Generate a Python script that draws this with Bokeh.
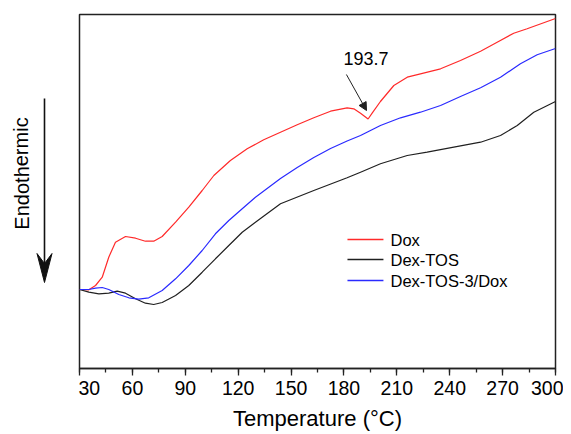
from bokeh.plotting import figure
from bokeh.layouts import row
from bokeh.models import (Range1d, SingleIntervalTicker, Label, Arrow, NormalHead)
from bokeh.core.properties import value
from bokeh.embed import file_html
from bokeh.resources import INLINE

# ---- data (heat flow in arbitrary units) ----
t_dox = [30, 35.3, 39.1, 42.9, 46.6, 50.4, 56.1, 61.8, 67.4, 72.1, 76.9, 84.5, 92.0, 99.6,
         106.2, 115.6, 125.1, 134.5, 144.0, 153.5, 162.9, 172.4, 181.8, 185.6, 189.4, 193.7,
         196.0, 200.7, 208.3, 215.9, 223.4, 234.8, 246.1, 257.5, 266.9, 276.3, 283.9, 300]
hf_dox = [79, 78.7, 83, 91.3, 111.3, 126.3, 132, 130.3, 127.3, 127.3, 132, 146.3, 161.3, 178,
          193, 208, 219.7, 228.7, 236.3, 243.7, 250.7, 257.3, 260.7, 259.7, 255.3, 249.5,
          255.3, 267, 283, 291.3, 294.7, 299.7, 308, 317.3, 326.3, 335.3, 339.7, 350]

t_tos = [30, 35.3, 41.0, 46.6, 51.4, 56.1, 61.8, 67.4, 72.1, 76.9, 84.5, 92.0, 99.6, 107.1,
         114.7, 122.3, 129.8, 144.0, 162.9, 181.8, 189.4, 200.7, 215.9, 227.2, 242.3, 257.5,
         268.8, 278.3, 287.7, 300]
hf_tos = [79, 76.3, 74.7, 75.3, 77.3, 75.3, 69.7, 65.3, 64, 66, 73, 83, 96.3, 109.7,
          123, 136.3, 146.3, 164.7, 178, 190.7, 196.3, 204.7, 213, 216.3, 221.3, 226.3,
          233, 243, 256.3, 267]

t_mix = [30, 35.3, 39.1, 42.9, 46.6, 52.3, 58.0, 63.6, 69.3, 76.9, 84.5, 92.0, 99.6, 107.1,
         114.7, 122.3, 129.8, 144.0, 153.5, 162.9, 172.4, 181.8, 189.4, 200.7, 212.1, 223.4,
         234.8, 246.1, 257.5, 268.8, 280.1, 289.6, 300]
hf_mix = [79, 79, 80.3, 81, 79, 74, 70.7, 69.3, 70.7, 78, 89.7, 103, 118, 134.7,
          148, 159.7, 171.3, 190, 201, 211, 220, 227.5, 233, 243, 250.7, 256.3,
          263, 272, 280.7, 291.3, 304.7, 313.7, 320]

names = ["Dox", "Dex-TOS", "Dex-TOS-3/Dox"]
colors = ["#ff2a2a", "#202020", "#2a2aff"]
x_ticks_interval = 30
peak_t = 193.7
x_title = "Temperature (°C)"
y_title = "Endothermic"

FONT = "Liberation Sans"
H = 434
TOP = 14
BOTTOM = 66

# ---- main plot ----
p = figure(width=485, height=H, output_backend="svg", toolbar_location=None,
           x_range=Range1d(30, 300), y_range=Range1d(0, 354), y_axis_type=None,
           min_border_left=1, min_border_right=8, min_border_top=TOP, min_border_bottom=BOTTOM,
           background_fill_color="white", border_fill_color="white")
p.grid.visible = False
p.outline_line_color = "#222222"
p.outline_line_width = 1.5

ax = p.xaxis[0]
ax.ticker = SingleIntervalTicker(interval=x_ticks_interval, num_minor_ticks=2)
ax.axis_label = x_title
ax.axis_label_text_font = FONT
ax.axis_label_text_font_size = "22px"
ax.axis_label_text_font_style = "normal"
ax.axis_label_text_color = "black"
ax.axis_label_standoff = 8
ax.major_label_text_font = FONT
ax.major_label_text_font_size = "19.5px"
ax.major_label_text_color = "black"
ax.major_label_standoff = 5
ax.major_tick_out = 7
ax.major_tick_in = 0
ax.minor_tick_out = 4
ax.minor_tick_in = 0
ax.axis_line_color = "#222222"
ax.axis_line_width = 1.5
ax.major_tick_line_color = "#222222"
ax.major_tick_line_width = 1.3
ax.minor_tick_line_color = "#222222"
ax.minor_tick_line_width = 1.3

series = [(t_dox, hf_dox), (t_tos, hf_tos), (t_mix, hf_mix)]
for (tx, hy), c in zip(series, colors):
    p.line(tx, hy, line_color=c, line_width=1.2)

# legend (drawn as plain glyphs in the plot's coordinates)
leg_y = [129, 109, 88]
p.segment(x0=[182.0] * 3, y0=leg_y, x1=[202.4] * 3, y1=leg_y, line_color=colors,
          line_width=1.3)
p.text(x=[206.4] * 3, y=leg_y, text=names, text_align="left", text_baseline="middle",
       text_font=value(FONT), text_font_size="16.5px", text_color="black")

# peak annotation
p.add_layout(Label(x=192.5, y=310, text=f"{peak_t:.1f}", text_align="center",
                   text_baseline="middle", text_font=FONT, text_font_size="18px",
                   text_color="black"))
p.add_layout(Arrow(x_start=181.4, y_start=294, x_end=192.8, y_end=258,
                   line_color="#222222", line_width=1,
                   end=NormalHead(size=8, fill_color="#222222", line_color="#222222")))

# ---- left strip: "Endothermic" direction indicator ----
q = figure(width=78, height=H, output_backend="svg", toolbar_location=None,
           x_range=Range1d(0, 78), y_range=Range1d(0, 354),
           x_axis_type=None, y_axis_type=None,
           min_border_left=0, min_border_right=0, min_border_top=TOP, min_border_bottom=BOTTOM,
           background_fill_color="white", border_fill_color="white")
q.grid.visible = False
q.outline_line_color = None
q.text(x=[21], y=[195], text=[y_title], angle=1.5708, text_align="center",
       text_baseline="middle", text_font=value(FONT), text_font_size="20px",
       text_color="black")
q.line(x=[44, 44], y=[270, 104], line_color="#111111", line_width=1.6)
q.patch(x=[44, 36.5, 44, 51.5], y=[86, 115, 105, 115], fill_color="#111111",
        line_color="#111111", line_width=1)

layout = row(q, p)
open("out.html", "w").write(file_html(layout, INLINE))
